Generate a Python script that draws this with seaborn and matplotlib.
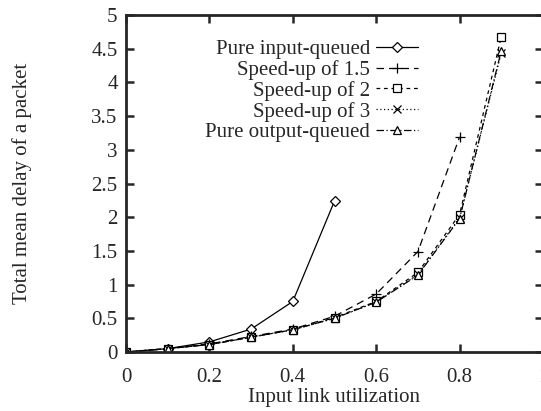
import matplotlib
matplotlib.use('Agg')
import matplotlib.pyplot as plt
import seaborn as sns

load = [0, 0.1, 0.2, 0.3, 0.4, 0.5, 0.6, 0.7, 0.8, 0.9]

input_queued = [0, 0.05, 0.15, 0.34, 0.75, 2.24]
speedup_15 = [0, 0.05, 0.12, 0.23, 0.34, 0.53, 0.86, 1.49, 3.19]
speedup_2 = [0, 0.05, 0.11, 0.22, 0.33, 0.51, 0.75, 1.18, 2.04, 4.68]
speedup_3 = [0, 0.05, 0.11, 0.22, 0.33, 0.50, 0.74, 1.15, 1.99, 4.44]
output_queued = [0, 0.05, 0.11, 0.22, 0.33, 0.50, 0.74, 1.14, 1.98, 4.47]

labels = ['Pure input-queued', 'Speed-up of 1.5', 'Speed-up of 2',
          'Speed-up of 3', 'Pure output-queued']
series = [input_queued, speedup_15, speedup_2, speedup_3, output_queued]
markers = ['D', '+', 's', 'x', '^']
msizes = [5.5, 7, 6, 6, 6]
styles = ['-', (0, (6, 4)), (0, (3, 3)), (0, (1, 2)), (0, (6, 2, 1, 2))]

x_ticks = [0, 0.2, 0.4, 0.6, 0.8, 1]
x_ticklabels = ['0', '0.2', '0.4', '0.6', '0.8', '1']
y_ticks = [0, 0.5, 1, 1.5, 2, 2.5, 3, 3.5, 4, 4.5, 5]
y_ticklabels = ['0', '0.5', '1', '1.5', '2', '2.5', '3', '3.5', '4', '4.5', '5']

sns.set_style('ticks')
plt.rcParams['font.family'] = ['Liberation Serif', 'DejaVu Serif']
plt.rcParams['font.size'] = 15

fig = plt.figure(figsize=(5.41, 4.11), dpi=100)
ax = fig.add_axes([126 / 541, 1 - 352 / 411, 417 / 541, 337 / 411])

for vals, lab, mk, ms, ls in zip(series, labels, markers, msizes, styles):
    sns.lineplot(x=load[:len(vals)], y=vals, ax=ax, color='black',
                 linestyle=ls, linewidth=0.9, marker=mk, markersize=ms,
                 markerfacecolor='white', markeredgecolor='black',
                 markeredgewidth=0.9, label=lab, legend=False)

ax.set_xlim(0, 1)
ax.set_ylim(0, 5)
ax.set_xticks(x_ticks)
ax.set_xticklabels(x_ticklabels)
ax.set_yticks(y_ticks)
ax.set_yticklabels(y_ticklabels)
ax.tick_params(direction='in', length=6, width=1.8, top=True, right=True,
               labelsize=15)
ax.tick_params(axis='x', pad=11.5)
ax.tick_params(axis='y', pad=6)
for sp in ax.spines.values():
    sp.set_linewidth(2)
    sp.set_visible(True)

ax.set_xlabel('Input link utilization', fontsize=15, labelpad=1)
ax.set_ylabel('Total mean delay of a packet', fontsize=15, labelpad=43)

handles, labs = ax.get_legend_handles_labels()
ax.legend(handles, labs, loc='upper right', bbox_to_anchor=(0.70, 0.928),
          frameon=False, markerfirst=False, fontsize=15, labelspacing=0.05,
          handlelength=2.0, handletextpad=0.3, borderpad=0, borderaxespad=0)

fig.savefig('out.png', dpi=100)
